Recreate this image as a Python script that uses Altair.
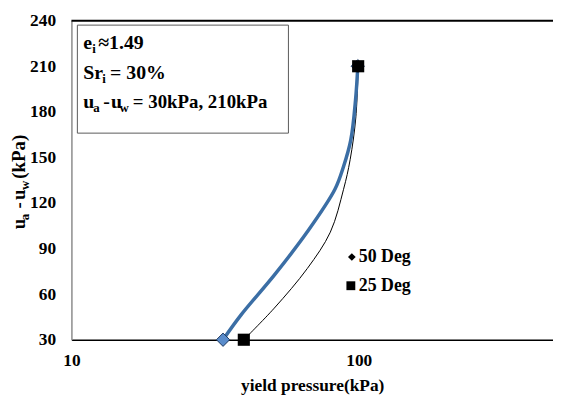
import altair as alt
import pandas as pd

# ---- data ----
x_50 = [33.7, 39.0, 50.8, 66.2, 82.6, 88.5, 93.8, 97.4, 99.2]
y_50 = [30, 46.5, 72.5, 101, 129, 144, 161.5, 187.6, 210]
x_25 = [39.8, 50.8, 66.2, 79.6, 88.5, 93.3, 97.7, 99.5]
y_25 = [30, 50.8, 76.9, 100.8, 129, 148.5, 176.7, 210]
pts50_x = [33.7, 99.2]
pts50_y = [30, 210]
pts25_x = [39.8, 99.5]
pts25_y = [30, 210]
x_ticks = [10, 100]
y_ticks = [30, 60, 90, 120, 150, 180, 210, 240]

FONT = "Liberation Serif"
W, H = 486, 322

line50 = pd.DataFrame({"x": x_50, "y": y_50})
line25 = pd.DataFrame({"x": x_25, "y": y_25})
mk50 = pd.DataFrame({"x": pts50_x, "y": pts50_y})
mk25 = pd.DataFrame({"x": pts25_x, "y": pts25_y})

xscale = alt.Scale(type="log", domain=[10, 474], nice=False)
yscale = alt.Scale(domain=[30, 240], nice=False, zero=False)

X = alt.X("x:Q", scale=xscale,
          axis=alt.Axis(values=x_ticks, title="yield pressure(kPa)", ticks=False,
                        grid=False, labelFlush=False, domainColor="black",
                        domainWidth=1.5, labelPadding=12, titlePadding=8,
                        format="d"))
Y = alt.Y("y:Q", scale=yscale,
          axis=alt.Axis(values=y_ticks, title=None, ticks=False, grid=False,
                        labelFlush=False, domainColor="#8c8c8c", domainWidth=1.5,
                        labelPadding=16))

one = alt.Data(values=[{}])


def txt(text, x, y, size=17.5, angle=0, align="left", baseline="alphabetic"):
    kw = dict(text=text, font=FONT, fontWeight="bold", fontSize=size,
              align=align, baseline=baseline, color="black")
    if angle:
        kw["angle"] = angle
    return alt.Chart(one).mark_text(**kw).encode(x=alt.value(x), y=alt.value(y))


l25 = alt.Chart(line25).mark_line(color="black", strokeWidth=1,
                                  interpolate="catmull-rom").encode(x=X, y=Y, order="x:Q")
l50 = alt.Chart(line50).mark_line(color="#3B6EA5", strokeWidth=3.5,
                                  interpolate="catmull-rom").encode(x=X, y=Y, order="x:Q")
m50 = alt.Chart(mk50).mark_point(shape="diamond", filled=True, size=180,
                                 fill="#5A8CCB", stroke="#1F3A5F", strokeWidth=1,
                                 opacity=1).encode(x=X, y=Y)
m25 = alt.Chart(mk25).mark_point(shape="square", filled=True, size=150,
                                 color="black", opacity=1).encode(x=X, y=Y)

top_rule = alt.Chart(one).mark_rule(color="black", strokeWidth=2).encode(
    x=alt.value(0), x2=alt.value(W), y=alt.value(0))

box = alt.Chart(one).mark_rect(fill="white", stroke="#595959", strokeWidth=1).encode(
    x=alt.value(6), x2=alt.value(219), y=alt.value(4.5), y2=alt.value(113.5))

BF = 20
SUB = 13
L1, L2, L3 = 28.5, 59, 88
YT = 19
YX, YSX = -47, -43
annot = [
    # text box
    txt("e", 12, L1, BF), txt("i", 21, L1 + 4, SUB), txt("\u2248", 27, L1, BF),
    txt("1.49", 38, L1, BF),
    txt("Sr", 12, L2, BF), txt("i", 31, L2 + 4, SUB), txt("= 30%", 39, L2, BF),
    txt("u", 12, L3, BF), txt("a", 22, L3 + 4, SUB), txt("-", 32, L3, BF),
    txt("u", 40, L3, BF), txt("w", 48.5, L3 + 4, SUB),
    txt("= 30kPa, 210kPa", 62, L3, 19),
    # legend
    txt("50 Deg", 290, 238.5, size=18, baseline="middle"),
    txt("25 Deg", 290, 267.5, size=18, baseline="middle"),
    # y title (rotated)
    txt("u", YX, 210.5, YT, angle=270),
    txt("a", YSX, 201.5, SUB, angle=270),
    txt("-", YX, 189.5, YT, angle=270),
    txt("u", YX, 181, YT, angle=270),
    txt("w", YSX, 171, SUB, angle=270),
    txt("(kPa)", YX, 159.5, YT, angle=270),
]

leg_d = alt.Chart(one).mark_point(shape="diamond", filled=True, size=60, color="black",
                                  opacity=1).encode(x=alt.value(283), y=alt.value(238.5))
leg_s = alt.Chart(one).mark_point(shape="square", filled=True, size=80, color="black",
                                  opacity=1).encode(x=alt.value(282), y=alt.value(267.5))

chart = alt.layer(
    l25, l50, m50, m25, top_rule, box, leg_d, leg_s, *annot
).properties(
    width=W, height=H,
    background="white",
    autosize=alt.AutoSizeParams(type="none"),
    padding={"left": 64, "top": 11, "right": 0, "bottom": 54},
).configure_view(stroke=None).configure_axis(
    labelFont=FONT, labelFontWeight="bold", labelFontSize=17.5, labelColor="black",
    titleFont=FONT, titleFontWeight="bold", titleFontSize=17.5, titleColor="black",
)

chart.save("out.html", embed_options={"renderer": "svg", "actions": False})
